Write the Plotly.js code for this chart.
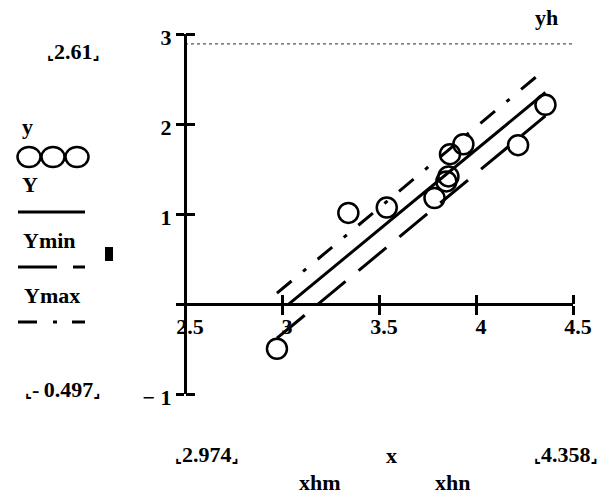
<!DOCTYPE html>
<html>
<head>
<meta charset="utf-8">
<script src="https://cdn.plot.ly/plotly-3.0.1.min.js"></script>
<style>
  html, body { margin: 0; padding: 0; background: #ffffff; }
  #plot { width: 600px; height: 496px; }
</style>
</head>
<body>
<div id="plot"></div>
<script>
// Measured points (x, y)
const xObs = [2.974, 3.342, 3.540, 3.786, 3.847, 3.858, 3.866, 3.935, 4.217, 4.358];
const yObs = [-0.497, 1.012, 1.072, 1.178, 1.362, 1.418, 1.665, 1.775, 1.765, 2.214];

// Fitted line Y and its lower / upper bounds Ymin, Ymax
const xFit = [3.03, 4.358];
const yFit = [-0.01, 2.35];
const xBand = [2.974, 4.358];
const yMinBand = [-0.38, 2.09];
const yMaxBand = [0.12, 2.61];

// Horizontal marker yh and the limit read-outs shown around the plot
const yhLevel = 2.89;
const xRange = [2.5, 4.5];
const yRange = [-1, 3];
const xTicks = [2.5, 3, 3.5, 4, 4.5];
const xTickText = ['2.5', '3', '3.5', '4', '4.5'];
const yTicks = [-1, 0, 1, 2, 3];
const yTickText = ['\u2212 1', '', '1', '2', '3'];
const limitYTop = '2.61';
const limitYBottom = '-\u20090.497';
const limitXLeft = '2.974';
const limitXRight = '4.358';

const W = 600, H = 496;
const M = { l: 185, r: 27, t: 34, b: 102 };
const plotW = W - M.l - M.r, plotH = H - M.t - M.b;
// page pixel -> paper fraction, for the labels placed outside the plot area
const px = v => (v - M.l) / plotW;
const py = v => (H - M.b - v) / plotH;

const FONT = 'Liberation Serif, Times New Roman, serif';
const INK = '#000000';

const traces = [
  { x: xFit, y: yFit, type: 'scatter', mode: 'lines', name: 'Y',
    line: { color: INK, width: 3 }, hoverinfo: 'skip' },
  { x: xBand, y: yMinBand, type: 'scatter', mode: 'lines', name: 'Ymin',
    line: { color: INK, width: 3, dash: '36px,17px' }, hoverinfo: 'skip' },
  { x: xBand, y: yMaxBand, type: 'scatter', mode: 'lines', name: 'Ymax',
    line: { color: INK, width: 3, dash: '19px,15px,4px,15px' }, hoverinfo: 'skip' },
  { x: xObs, y: yObs, type: 'scatter', mode: 'markers', name: 'y',
    marker: { symbol: 'circle-open', size: 20, color: INK, line: { width: 2.5, color: INK } } },
  // yh marker line, on the overlay axes that carry the inner half of the ticks
  { x: xRange, y: [yhLevel, yhLevel], type: 'scatter', mode: 'lines', name: 'yh',
    xaxis: 'x2', yaxis: 'y2',
    line: { color: '#555555', width: 1.2, dash: 'dot' }, hoverinfo: 'skip' }
];

// limit read-out wrapped in Mathcad's corner brackets
const bracket = s => '<span style="font-family:DejaVu Sans;font-size:15px">\u231E</span>' + s +
                     '<span style="font-family:DejaVu Sans;font-size:15px">\u231F</span>';

const textFont = { family: FONT, size: 22, color: INK, weight: 'bold' };
function label(text, cx, cy) {
  return { text: text, xref: 'paper', yref: 'paper', x: px(cx), y: py(cy),
           xanchor: 'center', yanchor: 'middle', showarrow: false, font: textFont };
}

const annotations = [
  label(bracket(limitYTop), 73, 51),
  label('y', 27, 126),
  label('Y', 30, 185),
  label('Ymin', 49, 240),
  label('Ymax', 52, 295),
  label(bracket(limitYBottom), 62, 389),
  label(bracket(limitXLeft), 207, 454),
  label('x', 391, 455),
  label('xhm', 320, 482),
  label('xhn', 452, 482),
  label(bracket(limitXRight), 566, 454),
  label('yh', 546, 18)
];

const legendLine = { color: INK, width: 3 };
const shapes = [
  // y : three open circles
  ...[29, 53, 77].map(c => ({ type: 'circle', xref: 'paper', yref: 'paper',
      x0: px(c - 11.5), x1: px(c + 11.5), y0: py(167), y1: py(147),
      line: { color: INK, width: 2.5 } })),
  // Y : solid
  { type: 'line', xref: 'paper', yref: 'paper', x0: px(18), x1: px(85), y0: py(212), y1: py(212),
    line: legendLine },
  // Ymin : dashed
  { type: 'line', xref: 'paper', yref: 'paper', x0: px(18), x1: px(85), y0: py(267), y1: py(267),
    line: { color: INK, width: 3, dash: '39px,16px' } },
  // Ymax : dash-dot
  { type: 'line', xref: 'paper', yref: 'paper', x0: px(18), x1: px(85), y0: py(322), y1: py(322),
    line: { color: INK, width: 3, dash: '19px,16px,4px,15px' } },
  // selection handle
  { type: 'rect', xref: 'paper', yref: 'paper', x0: px(105), x1: px(113), y0: py(261), y1: py(247),
    fillcolor: INK, line: { width: 0 } }
];

const zeroPos = (0 - yRange[0]) / (yRange[1] - yRange[0]);
const tickFont = { family: FONT, size: 22, color: INK, weight: 'bold' };

const layout = {
  width: W, height: H,
  margin: M,
  paper_bgcolor: '#ffffff', plot_bgcolor: '#ffffff',
  showlegend: false,
  xaxis: {
    range: xRange, anchor: 'free', position: zeroPos,
    showgrid: false, zeroline: false,
    showline: true, linecolor: INK, linewidth: 3,
    ticks: 'outside', ticklen: 9, tickwidth: 3, tickcolor: INK,
    tickmode: 'array', tickvals: xTicks, ticktext: xTickText,
    tickfont: tickFont, ticklabelstandoff: -7, ticklabelshift: 5
  },
  xaxis2: {
    overlaying: 'x', matches: 'x', anchor: 'free', position: zeroPos, side: 'top',
    showgrid: false, zeroline: false, showline: false,
    ticks: 'outside', ticklen: 9, tickwidth: 3, tickcolor: INK,
    tickmode: 'array', tickvals: xTicks, showticklabels: false
  },
  yaxis: {
    range: yRange, anchor: 'free', position: 0,
    showgrid: false, zeroline: false,
    showline: true, linecolor: INK, linewidth: 3,
    ticks: 'outside', ticklen: 8, tickwidth: 3, tickcolor: INK,
    tickmode: 'array', tickvals: yTicks, ticktext: yTickText,
    tickfont: tickFont, ticklabelshift: 3, ticklabelstandoff: 0
  },
  yaxis2: {
    overlaying: 'y', matches: 'y', anchor: 'free', position: 0, side: 'right',
    showgrid: false, zeroline: false, showline: false,
    ticks: 'outside', ticklen: 9, tickwidth: 3, tickcolor: INK,
    tickmode: 'array', tickvals: yTicks, showticklabels: false
  },
  annotations: annotations,
  shapes: shapes
};

Plotly.newPlot('plot', traces, layout, { staticPlot: true, displayModeBar: false });
</script>
</body>
</html>
